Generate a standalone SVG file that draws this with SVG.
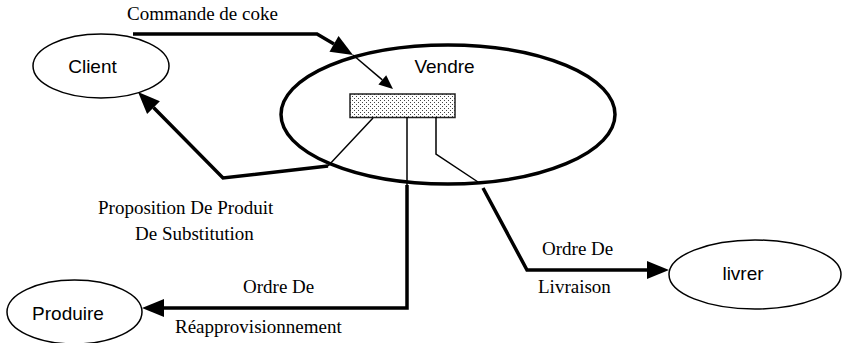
<svg xmlns="http://www.w3.org/2000/svg" width="842" height="343" viewBox="0 0 842 343">
<defs>
<style>
.node{fill:#fff;stroke:#000;stroke-width:1.5}
.main{fill:none;stroke:#000;stroke-width:3.5}
.lbl{font-family:"Liberation Sans",Arial,sans-serif;font-size:19px;fill:#000;text-anchor:middle}
.flow{font-family:"Liberation Serif","Times New Roman",serif;font-size:19px;fill:#000}
.thick{fill:none;stroke:#000;stroke-width:3.5;stroke-linejoin:miter}
.thin{fill:none;stroke:#000;stroke-width:1.5}
</style>
<pattern id="dots" width="4" height="4" patternUnits="userSpaceOnUse">
<rect width="4" height="4" fill="#fff"/>
<rect x="0" y="0" width="1" height="1" fill="#444"/>
<rect x="2" y="2" width="1" height="1" fill="#444"/>
</pattern>
<marker id="big" markerUnits="userSpaceOnUse" markerWidth="22" markerHeight="18" refX="0" refY="9" orient="auto" overflow="visible">
<path d="M0,0 L22,9 L0,18 Z" fill="#000"/>
</marker>
<marker id="small" markerUnits="userSpaceOnUse" markerWidth="14" markerHeight="12" refX="0" refY="6" orient="auto" overflow="visible">
<path d="M0,0 L14,6 L0,12 Z" fill="#000"/>
</marker>
</defs>
<rect width="842" height="343" fill="#fff"/>

<g id="vendre">
<ellipse cx="448" cy="114.5" rx="167" ry="69.5" class="main"/>
<text x="444.5" y="73" class="lbl">Vendre</text>
<rect x="350" y="94" width="105" height="23.5" fill="url(#dots)" stroke="#222" stroke-width="1.5"/>
</g>

<g id="client">
<ellipse cx="101" cy="66" rx="68" ry="32" class="node"/>
<text x="92.5" y="73" class="lbl">Client</text>
</g>

<g id="livrer">
<ellipse cx="755" cy="274.5" rx="86" ry="34.5" class="node"/>
<text x="743" y="280" class="lbl">livrer</text>
</g>

<g id="produire">
<ellipse cx="74.5" cy="312" rx="67.5" ry="32" class="node"/>
<text x="68" y="320" class="lbl">Produire</text>
</g>

<g id="connectors">
<path d="M133,34 H317 L334,43.9" class="thick" marker-end="url(#big)"/>
<path d="M353,55 L382.3,79.9" class="thin" marker-end="url(#small)"/>
<path d="M373,118 L328,166" class="thin"/>
<path d="M328,166 L223,178 L153.5,107.6" class="thick" marker-end="url(#big)"/>
<path d="M407,117 V185" class="thin"/>
<path d="M407,185 V308 H164" class="thick" marker-end="url(#big)"/>
<path d="M436,117 V154 L478,182" class="thin"/>
<path d="M483,188 L527,270 H647" class="thick" marker-end="url(#big)"/>
</g>

<g id="labels">
<text x="127" y="20" class="flow">Commande de coke</text>
<text x="98" y="214" class="flow">Proposition De Produit</text>
<text x="135" y="240" class="flow">De Substitution</text>
<text x="243" y="293" class="flow">Ordre De</text>
<text x="175" y="333" class="flow">Réapprovisionnement</text>
<text x="542" y="255" class="flow">Ordre De</text>
<text x="538" y="293" class="flow">Livraison</text>
</g>
</svg>
